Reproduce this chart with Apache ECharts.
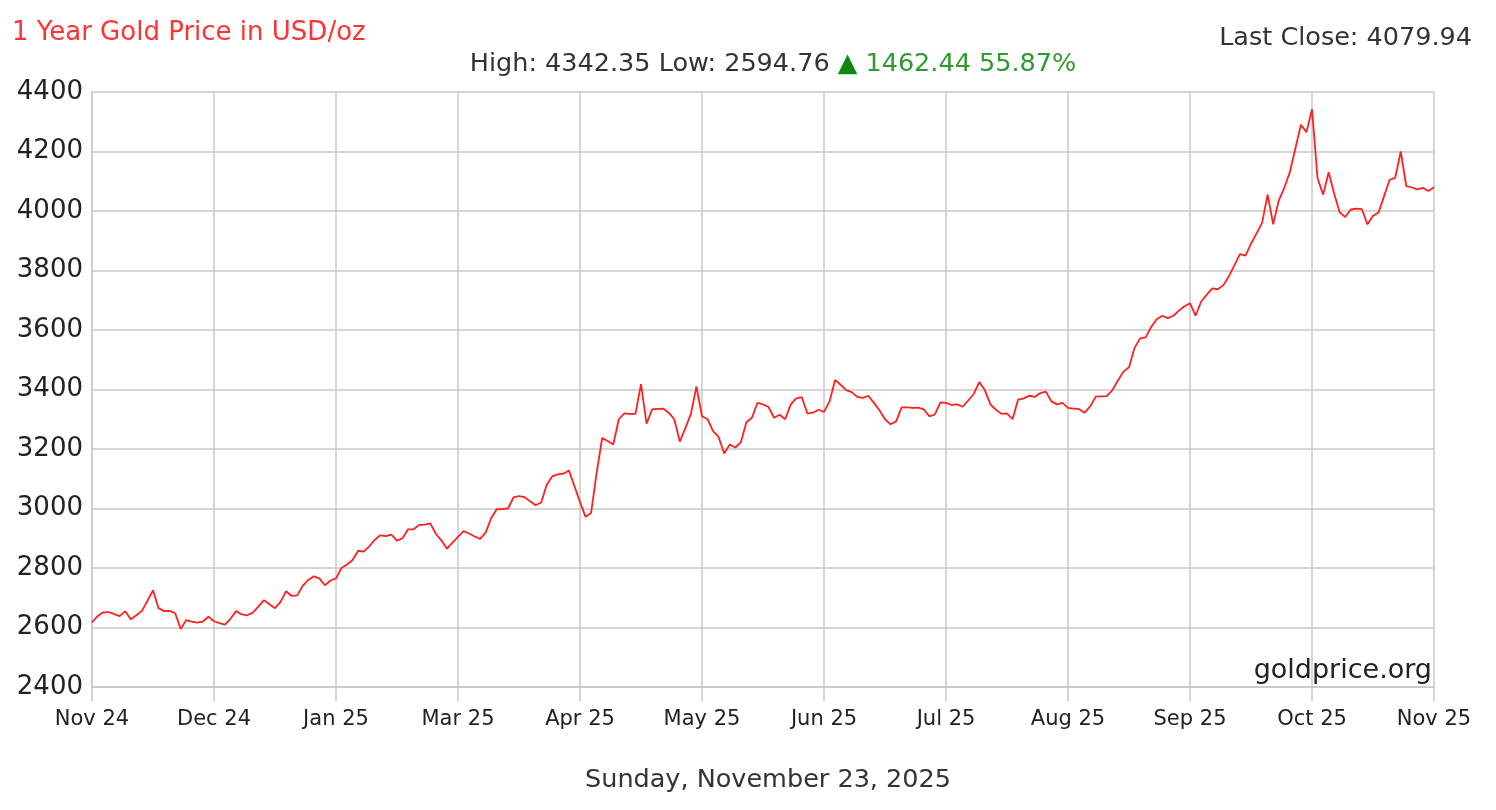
<!DOCTYPE html>
<html>
<head>
<meta charset="utf-8">
<script src="https://cdn.jsdelivr.net/npm/echarts@6/dist/echarts.min.js"></script>
<style>
  html, body { margin: 0; padding: 0; background: #fff; }
  #container { width: 1496px; height: 810px; }
</style>
</head>
<body>
<div id="container"></div>
<script>
// tick labels, one per grid column (22 trading points between ticks)
var tickLabels = ['Nov 24', 'Dec 24', 'Jan 25', 'Mar 25', 'Apr 25', 'May 25',
                  'Jun 25', 'Jul 25', 'Aug 25', 'Sep 25', 'Oct 25', 'Nov 25'];
var perTick = 22;

// prices, one array per tick interval
var nov24 = [2617.5, 2638, 2651, 2652, 2645, 2638, 2655, 2628, 2641, 2656, 2690, 2725, 2665, 2655, 2656, 2648, 2595, 2625, 2620, 2616, 2620, 2636];
var dec24 = [2621, 2615, 2610, 2630, 2655, 2644, 2641, 2650, 2670, 2692, 2678, 2665, 2686, 2722, 2706, 2708, 2740, 2760, 2772, 2765, 2742, 2758];
var jan25 = [2765, 2800, 2812, 2827, 2858, 2855, 2873, 2895, 2910, 2907, 2912, 2892, 2900, 2930, 2930, 2945, 2946, 2950, 2915, 2893, 2865, 2885];
var mar25 = [2905, 2924, 2916, 2906, 2898, 2920, 2968, 2998, 2998, 3000, 3037, 3042, 3038, 3024, 3011, 3020, 3080, 3108, 3115, 3117, 3128, 3075];
var apr25 = [3022, 2972, 2985, 3120, 3237, 3227, 3215, 3300, 3320, 3318, 3318, 3418, 3285, 3333, 3335, 3336, 3322, 3300, 3225, 3270, 3318, 3410];
var may25 = [3310, 3300, 3260, 3240, 3185, 3215, 3205, 3222, 3290, 3305, 3355, 3350, 3341, 3305, 3315, 3300, 3350, 3370, 3374, 3320, 3322, 3332];
var jun25 = [3325, 3360, 3432, 3416, 3398, 3391, 3375, 3372, 3379, 3355, 3330, 3300, 3283, 3293, 3340, 3340, 3338, 3339, 3333, 3310, 3316, 3357];
var jul25 = [3355, 3348, 3350, 3342, 3363, 3385, 3425, 3398, 3350, 3332, 3318, 3320, 3300, 3366, 3370, 3379, 3375, 3388, 3393, 3360, 3350, 3355];
var aug25 = [3338, 3336, 3334, 3322, 3343, 3376, 3377, 3378, 3398, 3430, 3460, 3475, 3540, 3572, 3575, 3610, 3636, 3648, 3640, 3648, 3665, 3680];
var sep25 = [3690, 3648, 3695, 3718, 3740, 3737, 3750, 3780, 3817, 3855, 3850, 3890, 3925, 3960, 4055, 3955, 4035, 4078, 4130, 4210, 4290, 4265];
var oct25 = [4342, 4110, 4055, 4130, 4058, 3995, 3980, 4005, 4008, 4006, 3955, 3984, 3995, 4050, 4105, 4111, 4200, 4084, 4079, 4073, 4078, 4067];
var lastClose = 4079.94;

var stats = { high: '4342.35', low: '2594.76', change: '1462.44', pct: '55.87%', close: '4079.94' };
var chartTitle = '1 Year Gold Price in USD/oz';
var dateText = 'Sunday, November 23, 2025';

var prices = [].concat(nov24, dec24, jan25, mar25, apr25, may25, jun25, jul25, aug25, sep25, oct25, [lastClose]);
var categories = prices.map(function (p, i) { return String(i); });

var dom = document.getElementById('container');
var myChart = echarts.init(dom);
var font = 'DejaVu Sans';
var gridColor = '#c8c8c8';

var option = {
    backgroundColor: '#fff',
    animation: false,
    textStyle: { fontFamily: font },
    title: [
        {
            text: chartTitle,
            left: 7, top: 15,
            textStyle: { color: '#ff3333', fontSize: 26, fontWeight: 'normal', fontFamily: font }
        },
        {
            text: 'Last Close: ' + stats.close,
            right: 19, top: 20,
            textStyle: { color: '#333', fontSize: 25.5, fontWeight: 'normal', fontFamily: font }
        },
        {
            text: '{d|High: ' + stats.high + ' Low: ' + stats.low + ' }{up|▲}{g| ' + stats.change + ' ' + stats.pct + '}',
            left: 768, top: 46, textAlign: 'center',
            textStyle: {
                fontWeight: 'normal',
                rich: {
                    d: { color: '#333', fontSize: 25.5, fontWeight: 'normal', fontFamily: font },
                    up: { color: '#118811', fontSize: 25.5, fontWeight: 'normal', fontFamily: font },
                    g: { color: '#2f9a2f', fontSize: 25.5, fontWeight: 'normal', fontFamily: font }
                }
            }
        },
        {
            text: 'goldprice.org',
            right: 59, top: 652,
            textStyle: { color: '#222', fontSize: 27, fontWeight: 'normal', fontFamily: font }
        },
        {
            text: dateText,
            left: 763, top: 762, textAlign: 'center',
            textStyle: { color: '#333', fontSize: 25.5, fontWeight: 'normal', fontFamily: font }
        }
    ],
    grid: { left: 92, right: 62, top: 92, bottom: 123, containLabel: false },
    xAxis: {
        type: 'category',
        data: categories,
        boundaryGap: false,
        axisLine: { show: true, lineStyle: { color: gridColor, width: 1.5 } },
        axisTick: { show: true, interval: perTick - 1, length: 14, lineStyle: { color: gridColor, width: 1.5 } },
        splitLine: { show: true, interval: perTick - 1, lineStyle: { color: gridColor, width: 1.5 } },
        axisLabel: {
            interval: perTick - 1,
            showMinLabel: true,
            showMaxLabel: true,
            margin: 22,
            color: '#222',
            fontSize: 21,
            fontFamily: font,
            formatter: function (v, i) { return tickLabels[Math.round(i / perTick)]; }
        }
    },
    yAxis: {
        type: 'value',
        min: 2400, max: 4400, interval: 200,
        axisLine: { show: true, lineStyle: { color: gridColor, width: 1.5 } },
        axisTick: { show: false },
        splitLine: { show: true, lineStyle: { color: gridColor, width: 1.5 } },
        axisLabel: {
            margin: 9, color: '#222', fontSize: 26, fontFamily: font,
            formatter: function (v) { return String(v); }
        }
    },
    series: [
        {
            type: 'line',
            data: prices,
            showSymbol: false,
            symbol: 'none',
            lineStyle: { color: '#ff2020', width: 1.8 },
            z: 3
        }
    ]
};

myChart.setOption(option);
</script>
</body>
</html>
